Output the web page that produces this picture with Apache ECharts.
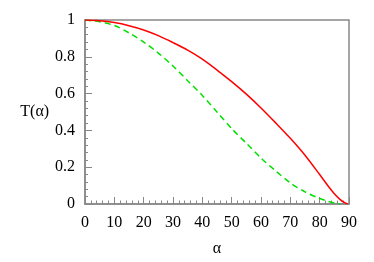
<!DOCTYPE html>
<html><head><meta charset="utf-8">
<script src="https://cdn.jsdelivr.net/npm/echarts@6/dist/echarts.min.js"></script>
<style>html,body{margin:0;padding:0;background:#fff}#c{width:374px;height:262px}</style>
</head><body><div id="c"></div>
<script>
// angle alpha (degrees)
const alphaRed = [0,5,10,15,20,25,30,35,40,45,50,55,60,65,70,75,80,83,85,87,88.5,89.6];
const tRed     = [1,0.996,0.986,0.969,0.946,0.915,0.877,0.836,0.787,0.728,0.665,0.597,0.522,0.441,0.357,0.265,0.16,0.095,0.056,0.024,0.007,0];
const alphaGreen = [0,5,10,15,20,25,30,35,40,45,50,55,60,65,70,75,80,83,85,87];
const tGreen     = [1,0.99,0.97,0.93,0.88,0.82,0.75,0.67,0.59,0.5,0.41,0.33,0.25,0.18,0.115,0.066,0.03,0.014,0.006,0];
const xTicks = {min:0, max:90, step:10};
const yTicks = {min:0, max:1, step:0.2};

const toPairs = (xs, ys) => xs.map((x,i)=>[x, ys[i]]);
const font = '"Liberation Serif", "DejaVu Serif", serif';
const chart = echarts.init(document.getElementById('c'), null, {renderer:'canvas'});
chart.setOption({
  animation:false,
  backgroundColor:'#fff',
  grid:{left:85, right:25, top:20, bottom:54, show:true, borderColor:'#888', borderWidth:1.5, backgroundColor:'transparent'},
  xAxis:{
    type:'value', min:xTicks.min, max:xTicks.max, interval:xTicks.step,
    name:'α', nameLocation:'middle', nameGap:37,
    nameTextStyle:{fontFamily:font, fontSize:16, color:'#000'},
    axisLine:{show:true, onZero:false, lineStyle:{color:'#888', width:1.5}},
    axisTick:{show:true, inside:true, length:7, lineStyle:{color:'#888', width:1}},
    minorTick:{show:true, splitNumber:5, length:3.5, lineStyle:{color:'#888', width:1}},
    axisLabel:{fontFamily:font, fontSize:16, color:'#000', margin:11},
    splitLine:{show:false}
  },
  yAxis:{
    type:'value', min:yTicks.min, max:yTicks.max, interval:yTicks.step,
    name:'T(α)', nameLocation:'middle', nameGap:33, nameRotate:0,
    nameTextStyle:{fontFamily:font, fontSize:16, color:'#000'},
    axisLine:{show:true, lineStyle:{color:'#888', width:1.5}},
    axisTick:{show:true, inside:true, length:7, lineStyle:{color:'#888', width:1}},
    minorTick:{show:true, splitNumber:5, length:3, lineStyle:{color:'#888', width:1}},
    axisLabel:{fontFamily:font, fontSize:16, color:'#000', margin:10},
    splitLine:{show:false}
  },
  series:[
    {type:'line', data:toPairs(alphaRed, tRed), smooth:0.3, showSymbol:false,
     lineStyle:{color:'#ff0000', width:1.5}, z:3},
    {type:'line', data:toPairs(alphaGreen, tGreen), smooth:0.3, showSymbol:false,
     lineStyle:{color:'#00e000', width:1.5, type:[6,4]}, z:2}
  ]
});
</script></body></html>
